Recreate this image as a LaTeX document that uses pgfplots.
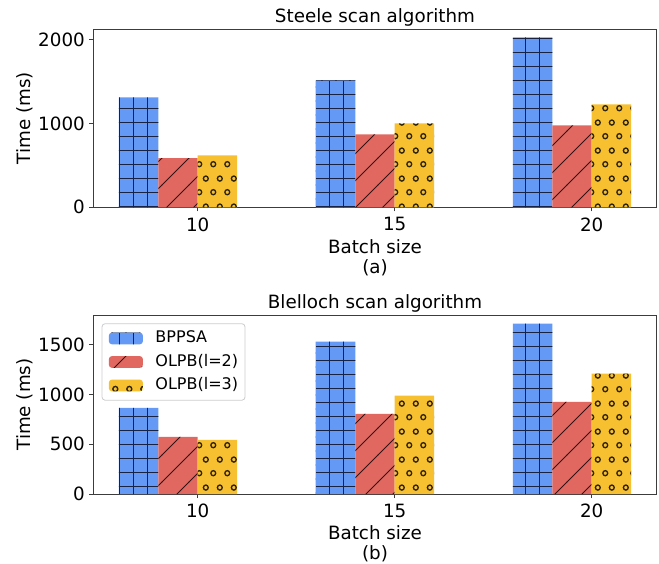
\documentclass[border=0pt]{standalone}
\usepackage{pgfplots}
\pgfplotsset{compat=1.18}
\usepackage{fontspec}
\setmainfont{DejaVu Sans}
\usetikzlibrary{patterns}
\newcommand\fs{\fontsize{18.3}{20}\selectfont}
\newcommand\lfs{\fontsize{16}{18}\selectfont}
\definecolor{cblue}{RGB}{100,153,245}
\definecolor{cred}{RGB}{224,104,96}
\definecolor{cyel}{RGB}{246,192,48}
\definecolor{hblue}{RGB}{25,35,65}
\definecolor{hred}{RGB}{50,20,20}
\definecolor{hyel}{RGB}{45,35,10}
\definecolor{spine}{RGB}{60,60,60}
\pgfdeclarepatternformonly{mplgrid}{\pgfqpoint{-1pt}{-1pt}}{\pgfqpoint{15pt}{15pt}}{\pgfqpoint{14pt}{14pt}}{%
  \pgfsetlinewidth{0.9pt}%
  \pgfpathmoveto{\pgfqpoint{-1pt}{7pt}}\pgfpathlineto{\pgfqpoint{15pt}{7pt}}%
  \pgfpathmoveto{\pgfqpoint{7pt}{-1pt}}\pgfpathlineto{\pgfqpoint{7pt}{15pt}}%
  \pgfusepath{stroke}}
\pgfdeclarepatternformonly{mpldiag}{\pgfqpoint{-1pt}{-1pt}}{\pgfqpoint{28pt}{28pt}}{\pgfqpoint{27pt}{27pt}}{%
  \pgfsetlinewidth{0.9pt}%
  \pgfpathmoveto{\pgfqpoint{0pt}{0pt}}\pgfpathlineto{\pgfqpoint{27.2pt}{27.2pt}}%
  \pgfusepath{stroke}}
\pgfdeclarepatternformonly{mplcirc}{\pgfqpoint{0pt}{0pt}}{\pgfqpoint{14pt}{28pt}}{\pgfqpoint{14pt}{28pt}}{%
  \pgfsetlinewidth{1.4pt}%
  \pgfpathcircle{\pgfqpoint{3.5pt}{7pt}}{2.6pt}%
  \pgfpathcircle{\pgfqpoint{10.5pt}{21pt}}{2.6pt}%
  \pgfusepath{stroke}}
\pgfplotstableread{
x bppsa olpbtwo olpbthree
0 1310 587 619
1 1512 869 1000
2 2024 976 1226
}\steele
\pgfplotstableread{
x bppsa olpbtwo olpbthree
0 866 574 544
1 1531 806 987
2 1712 926 1208
}\blelloch
\pgfplotsset{
  myaxis/.style={
    anchor=south west, scale only axis, width=563.4pt,
    xmin=-0.53, xmax=2.33, ymin=0,
    xtick={0,1,2}, xticklabels={10,15,20},
    tick pos=left, tick align=outside, major tick length=4pt,
    tick style={spine, line width=0.9pt},
    axis line style={spine, line width=0.9pt},
    /pgf/number format/assume math mode=true,
    /pgf/number format/1000 sep={},
    ticklabel style={font=\fs},
    xticklabel style={anchor=north, inner sep=0pt, yshift=-6pt},
    yticklabel style={anchor=east, inner sep=0pt, xshift=-4.3pt},
    label style={font=\fs},
    ylabel={Time (ms)},
    ylabel style={at={(rel axis cs:-0.1225,0.5)}, anchor=center, rotate=0, inner sep=0pt},
    xlabel style={at={(rel axis cs:0.5,0)}, anchor=north, yshift=-31.6pt, align=center, inner sep=0pt},
    title style={font=\fs, at={(rel axis cs:0.5,1)}, anchor=base, yshift=0.3pt, inner sep=0pt},
    legend image code/.code={\fill[##1] (0pt,-5.85pt) rectangle (34pt,5.85pt);},
  },
  bppsa/.style={ybar, bar width=0.2, bar shift=-0.3, fill=cblue, draw=none,
    postaction={pattern=mplgrid, pattern color=hblue}},
  olpb2/.style={ybar, bar width=0.2, bar shift=-0.1, fill=cred, draw=none,
    postaction={pattern=mpldiag, pattern color=hred}},
  olpb3/.style={ybar, bar width=0.2, bar shift=0.1, fill=cyel, draw=none,
    postaction={pattern=mplcirc, pattern color=hyel}},
}
\begin{document}
\begin{tikzpicture}[x=1pt,y=1pt]
\useasboundingbox (0,0) rectangle (659,563);
\begin{axis}[myaxis, at={(93.3pt,355.7pt)}, height=178.3pt, ymax=2125,
  ytick={0,1000,2000}, title={Steele scan algorithm}, xlabel={Batch size\\(a)}]
\addplot[bppsa] table[x=x,y=bppsa]{\steele};
\addplot[olpb2] table[x=x,y=olpbtwo]{\steele};
\addplot[olpb3] table[x=x,y=olpbthree]{\steele};
\end{axis}
\begin{axis}[myaxis, at={(93.3pt,69pt)}, height=179pt, ymax=1798,
  ytick={0,500,1000,1500}, title={Blelloch scan algorithm}, xlabel={Batch size\\(b)},
  legend style={at={(rel axis cs:0.0149,0.9536)}, anchor=north west,
    draw=black!20, line width=0.8pt, rounded corners=3pt, fill=white, font=\lfs,
    inner xsep=6.8pt, inner ysep=7pt, row sep=8pt, column sep=12.6pt,
    nodes={inner sep=0pt, anchor=west, text height=12pt, text depth=3.5pt}},
  legend cell align=left]
\addplot[bppsa] table[x=x,y=bppsa]{\blelloch};
\addplot[olpb2] table[x=x,y=olpbtwo]{\blelloch};
\addplot[olpb3] table[x=x,y=olpbthree]{\blelloch};
\legend{BPPSA,OLPB(l=2),OLPB(l=3)}
\end{axis}
\end{tikzpicture}
\end{document}
